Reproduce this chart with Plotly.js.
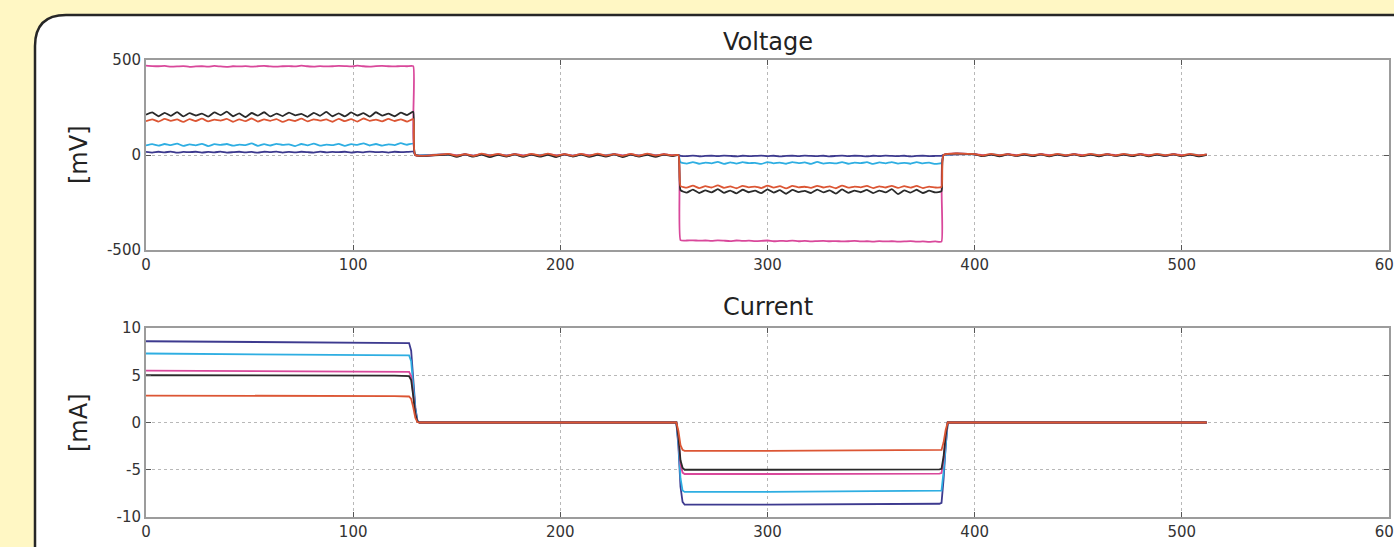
<!DOCTYPE html>
<html>
<head>
<meta charset="utf-8">
<script src="https://cdn.plot.ly/plotly-3.0.1.min.js"></script>
<style>
html,body{margin:0;padding:0;background:#fff7c4;}
#chart{width:1394px;height:547px;}
</style>
</head>
<body>
<div id="chart"></div>
<script>
// ---------- time axes ----------
const tPos = [0,3,6,9,12,15,18,21,24,27,30,33,36,39,42,45,48,51,54,57,60,63,66,69,72,75,78,81,84,87,90,93,96,99,102,105,108,111,114,117,120,123,126,129];
const tRest1 = [146,150,154,158,162,166,170,174,178,182,186,190,194,198,202,206,210,214,218,222,226,230,234,238,242,246,250,254];
const tNeg = [258,261,264,267,270,273,276,279,282,285,288,291,294,297,300,303,306,309,312,315,318,321,324,327,330,333,336,339,342,345,348,351,354,357,360,363,366,369,372,375,378,381,384];
const tRest2 = [400,404,408,412,416,420,424,428,432,436,440,444,448,452,456,460,464,468,472,476,480,484,488,492,496,500,504,508,512];
const tCur = [0,30,60,90,120,127,128,129,130,131,132,200,256,257,258,259,260,300,340,383,384,385,386,387,450,512];

const seriesNames = ["navy","cyan","pink","black","orange"];
const seriesColors = ["#3d3a8f","#2eaee2","#d9489b","#2a2a2a","#dc5634"];

// ---------- Voltage [mV] ----------
const vPos = {
  navy:  [16,13,17,14,18,12,16,15,17,13,16,14,18,13,15,17,14,16,12,17,15,18,13,16,14,17,15,13,18,14,16,15,17,13,16,14,18,15,16,13,17,15,16,18],
  cyan:  [50,57,49,58,52,60,48,56,51,59,47,57,53,58,49,55,52,61,48,57,50,59,53,56,47,58,51,60,49,55,52,59,48,57,53,61,50,58,49,56,52,62,54,60],
  pink:  [470,468,467,469,465,466,468,464,466,467,465,469,466,464,467,466,468,465,467,469,466,465,467,468,466,470,467,465,468,466,467,469,468,466,470,467,465,468,469,467,466,468,467,468],
  black: [212,224,204,222,206,226,203,220,208,218,202,224,210,228,204,219,200,221,207,225,203,218,205,223,209,216,201,222,206,227,204,219,203,224,208,220,202,225,207,218,204,223,210,228],
  orange:[178,188,176,190,180,187,174,189,179,191,177,186,181,190,175,188,178,192,176,187,180,189,174,186,179,191,177,188,181,187,175,190,178,189,176,192,180,186,177,190,179,188,176,189]
};
const vRest1 = {
  navy:  [3,-5,2,-6,3,-4,2,-5,3,-6,2,-4,3,-5,2,-6,3,-5,2,-4,3,-6,2,-5,3,-4,2,-3],
  cyan:  [4,-2,3,-3,4,-1,3,-2,4,-3,3,-1,4,-2,3,-3,4,-2,3,-1,4,-3,3,-2,4,-1,3,-1],
  pink:  [5,-2,4,-3,5,-2,4,-3,5,-2,4,-3,5,-2,4,-3,5,-2,4,-3,5,-2,4,-3,5,-2,4,-1],
  black: [2,-10,3,-9,2,-11,1,-8,3,-10,2,-9,1,-11,3,-8,2,-10,1,-9,3,-11,2,-8,1,-10,2,-6],
  orange:[6,-4,5,-5,7,-3,6,-4,5,-5,6,-3,7,-4,5,-5,6,-4,7,-3,5,-5,6,-4,7,-3,5,-2]
};
const vNeg = {
  navy:  [-4,-6,-3,-7,-5,-4,-6,-3,-5,-7,-4,-6,-5,-3,-6,-4,-7,-5,-4,-6,-3,-5,-6,-4,-7,-5,-3,-6,-4,-5,-7,-4,-6,-3,-5,-6,-4,-7,-5,-4,-6,-5,-4],
  cyan:  [-38,-45,-37,-46,-40,-44,-36,-47,-39,-45,-38,-43,-41,-47,-37,-44,-40,-46,-38,-43,-39,-47,-36,-45,-41,-44,-37,-46,-40,-43,-38,-47,-39,-44,-37,-45,-41,-46,-38,-44,-40,-47,-42],
  pink:  [-448,-450,-449,-451,-450,-452,-449,-451,-453,-450,-452,-451,-453,-452,-450,-454,-452,-453,-451,-454,-452,-455,-453,-452,-454,-453,-455,-454,-452,-455,-454,-456,-453,-455,-454,-456,-455,-453,-456,-455,-457,-455,-456],
  black: [-185,-198,-182,-200,-186,-197,-180,-199,-187,-202,-183,-196,-188,-201,-181,-198,-185,-204,-184,-195,-189,-200,-182,-197,-186,-203,-181,-199,-188,-196,-184,-201,-187,-197,-180,-206,-186,-198,-183,-200,-188,-197,-190],
  orange:[-163,-172,-161,-174,-164,-171,-160,-173,-165,-175,-162,-170,-166,-174,-161,-172,-164,-176,-163,-170,-167,-173,-162,-171,-165,-175,-161,-172,-166,-170,-163,-174,-165,-171,-162,-173,-164,-172,-163,-174,-166,-171,-168]
};
const vRest2 = {
  navy:  [4,-4,3,-5,4,-4,3,-5,4,-4,3,-5,4,-4,3,-5,4,-4,3,-5,4,-4,3,-5,4,-4,3,-5,2],
  cyan:  [3,-2,4,-1,3,-2,4,-1,3,-2,4,-1,3,-2,4,-1,3,-2,4,-1,3,-2,4,-1,3,-2,4,-1,2],
  pink:  [4,-1,3,-2,4,-1,3,-2,4,-1,3,-2,4,-1,3,-2,4,-1,3,-2,4,-1,3,-2,4,-1,3,-2,2],
  black: [3,-6,2,-7,3,-5,2,-6,3,-7,2,-5,3,-6,2,-7,3,-5,2,-6,3,-7,2,-5,3,-6,2,-7,1],
  orange:[5,-3,6,-2,5,-3,6,-2,5,-3,6,-2,5,-3,6,-2,5,-3,6,-2,5,-3,6,-2,5,-3,6,-2,3]
};

// ---------- Current [mA] ----------
const iVals = {
  navy:  [8.6,8.55,8.5,8.45,8.45,8.4,7.6,4.8,1.6,0.2,0,0,0,-2.5,-6.8,-8.4,-8.7,-8.7,-8.65,-8.6,-8.5,-6.0,-2.5,0,0,0],
  cyan:  [7.3,7.25,7.2,7.15,7.15,7.1,6.5,4.2,1.4,0.2,0,0,0,-2.2,-5.9,-7.2,-7.35,-7.35,-7.3,-7.25,-7.2,-5.2,-2.1,0,0,0],
  pink:  [5.5,5.45,5.4,5.4,5.35,5.35,4.9,3.0,1.0,0.1,0,0,0,-1.6,-4.4,-5.3,-5.45,-5.45,-5.45,-5.4,-5.35,-3.9,-1.6,0,0,0],
  black: [5.0,5.0,4.95,4.95,4.95,4.9,4.5,2.8,0.9,0.1,0,0,0,-1.5,-4.0,-4.8,-5.0,-5.0,-5.0,-4.95,-4.9,-3.6,-1.4,0,0,0],
  orange:[2.85,2.85,2.8,2.8,2.8,2.75,2.5,1.6,0.5,0.05,0,0,0,-0.9,-2.4,-2.9,-3.0,-3.0,-2.95,-2.9,-2.9,-2.1,-0.8,0,0,0]
};

const xTicks = [0,100,200,300,400,500,600];
const xTickText = ["0","100","200","300","400","500","600"];
const vTicks = [-500,0,500];
const vTickText = ["-500","0","500"];
const iTicks = [-10,-5,0,5,10];
const iTickText = ["-10","-5","0","5","10"];

// ---------- build traces ----------
const traces = [];
seriesNames.forEach((n, k) => {
  traces.push({
    type: "scatter", mode: "lines", name: n, showlegend: false,
    x: tPos.concat([130], tRest1, [257], tNeg, [385], tRest2),
    y: vPos[n].concat([0], vRest1[n], [0], vNeg[n], [0], vRest2[n]),
    line: {color: seriesColors[k], width: 1.8, shape: "spline", smoothing: 0.45},
    xaxis: "x", yaxis: "y", hoverinfo: "skip"
  });
});
seriesNames.forEach((n, k) => {
  traces.push({
    type: "scatter", mode: "lines", name: n, showlegend: false,
    x: tCur, y: iVals[n],
    line: {color: seriesColors[k], width: 1.8},
    xaxis: "x2", yaxis: "y2", hoverinfo: "skip"
  });
});

// ---------- geometry helpers (pixel -> paper) ----------
const L = 146, R = 5, T = 60, B = 30, W = 1394, H = 547;
const pw = W - L - R, ph = H - T - B;
const fx = px => (px - L) / pw;
const fy = py => (H - B - py) / ph;
const P = (px, py) => fx(px).toFixed(5) + "," + fy(py).toFixed(5);

const panelPath = "M" + P(35, 570) + " L" + P(35, 46) + " Q" + P(35, 15) + " " + P(66, 15) +
                  " L" + P(1420, 15) + " L" + P(1420, 570) + " Z";

const tickFont = {family: "DejaVu Sans, sans-serif", size: 15, color: "#333"};
const axisCommon = {
  showline: true, linecolor: "#9c9c9c", linewidth: 2, mirror: "ticks",
  ticks: "inside", ticklen: 5, tickwidth: 1, tickcolor: "#555",
  showgrid: true, gridcolor: "#b8b8b8", gridwidth: 1, griddash: "dot",
  zeroline: false, tickfont: tickFont, fixedrange: true, ticklabeloverflow: "allow"
};
const titleFont = {family: "DejaVu Sans, sans-serif", size: 24, color: "#222"};

const layout = {
  width: W, height: H,
  paper_bgcolor: "#fff7c4", plot_bgcolor: "#ffffff",
  margin: {l: L, r: R, t: T, b: B},
  showlegend: false,
  xaxis: Object.assign({}, axisCommon, {domain: [0, 1], range: [0, 600], tickvals: xTicks, ticktext: xTickText, anchor: "y"}),
  yaxis: Object.assign({}, axisCommon, {domain: [fy(250), 1], range: [-500, 500], tickvals: vTicks, ticktext: vTickText, anchor: "x"}),
  xaxis2: Object.assign({}, axisCommon, {domain: [0, 1], range: [0, 600], tickvals: xTicks, ticktext: xTickText, anchor: "y2"}),
  yaxis2: Object.assign({}, axisCommon, {domain: [0, fy(328)], range: [-10, 10], tickvals: iTicks, ticktext: iTickText, anchor: "x2"}),
  shapes: [{
    type: "path", xref: "paper", yref: "paper", layer: "below",
    path: panelPath, fillcolor: "#ffffff", line: {color: "#262626", width: 2.5}
  }],
  annotations: [
    {text: "Voltage", xref: "paper", yref: "paper", x: 0.5, y: fy(42), xanchor: "center", yanchor: "middle",
     showarrow: false, font: titleFont},
    {text: "Current", xref: "paper", yref: "paper", x: 0.5, y: fy(307), xanchor: "center", yanchor: "middle",
     showarrow: false, font: titleFont},
    {text: "[mV]", xref: "paper", yref: "paper", x: fx(79), y: fy(155), xanchor: "center", yanchor: "middle",
     textangle: -90, showarrow: false, font: titleFont},
    {text: "[mA]", xref: "paper", yref: "paper", x: fx(79), y: fy(423), xanchor: "center", yanchor: "middle",
     textangle: -90, showarrow: false, font: titleFont}
  ]
};

Plotly.newPlot("chart", traces, layout, {staticPlot: true, displayModeBar: false});
</script>
</body>
</html>
